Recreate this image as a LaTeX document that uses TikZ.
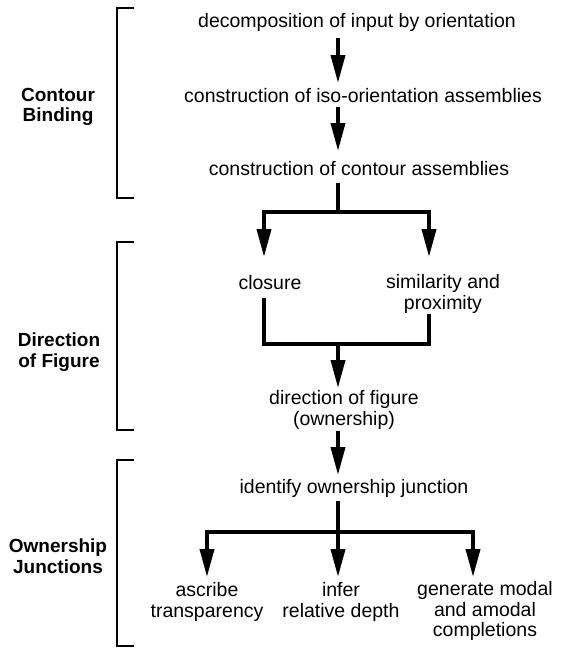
\documentclass[tikz,border=0pt]{standalone}
\usepackage{fontspec}
\setmainfont{Liberation Sans}
\usetikzlibrary{arrows.meta}
\tikzset{
  txt/.style={font=\fontsize{19.5}{20.5}\selectfont, align=center, inner sep=0pt},
  grp/.style={font=\fontsize{19}{20.5}\selectfont\bfseries, align=center, inner sep=0pt},
  brk/.style={line width=2.6pt, line cap=butt, line join=miter},
  wire/.style={line width=3.8pt, line join=miter},
  arr/.style={line width=3.8pt, line join=miter, -{Triangle[length=28pt,width=14pt]}}
}
\begin{document}
\begin{tikzpicture}[x=1pt,y=-1pt]
\useasboundingbox (0,0) rectangle (563,649);
\fill[white] (0,0) rectangle (563,649);

% brackets
\draw[brk] (134,8) -- (117,8) -- (117,198) -- (134,198);
\draw[brk] (134,242) -- (117,242) -- (117,430) -- (134,430);
\draw[brk] (134,460) -- (117,460) -- (117,646) -- (134,646);

% group labels
\node[grp] (gcb) at (58,107) {Contour\\Binding};
\node[grp] (gdf) at (59,352) {Direction\\of Figure};
\node[grp] (goj) at (58,556) {Ownership\\Junctions};

% text nodes
\node[txt] (dec) at (357,22) {decomposition of input by orientation};
\node[txt] (iso) at (363,96) {construction of iso-orientation assemblies};
\node[txt] (con) at (359,169) {construction of contour assemblies};
\node[txt] (clo) at (270,283) {closure};
\node[txt] (sim) at (443,294) {similarity and\\proximity};
\node[txt] (dir) at (344,410) {direction of figure\\(ownership)};
\node[txt] (idj) at (354,488) {identify ownership junction};
\node[txt] (asc) at (207,602) {ascribe\\transparency};
\node[txt] (inf) at (341,602) {infer\\relative depth};
\node[txt] (gen) at (485,611) {generate modal\\and amodal\\completions};

% connector coordinates
\coordinate (a1s) at (338,38);  \coordinate (a1e) at (338,83);
\coordinate (a2s) at (338,107); \coordinate (a2e) at (338,151);
\coordinate (c3s) at (338,183); \coordinate (j1) at (338,212);
\coordinate (t1) at (264,257);  \coordinate (t2) at (429,257);
\coordinate (cls) at (264,298); \coordinate (sms) at (429,314);
\coordinate (j2) at (338,344);  \coordinate (t3) at (338,388);
\coordinate (d4s) at (338,431); \coordinate (t4) at (338,475);
\coordinate (i5s) at (338,501); \coordinate (j3) at (338,532);
\coordinate (t5) at (207,577);  \coordinate (t6) at (338,577);
\coordinate (t7) at (473,577);

% connectors
\draw[arr] (a1s) -- (a1e);
\draw[arr] (a2s) -- (a2e);
\draw[wire] (c3s) -- (j1);
\draw[arr] (j1) -| (t1);
\draw[arr] (j1) -| (t2);
\draw[wire] (cls) |- (j2) -| (sms);
\draw[arr] (j2) -- (t3);
\draw[arr] (d4s) -- (t4);
\draw[wire] (i5s) -- (j3);
\draw[arr] (j3) -| (t5);
\draw[arr] (j3) -- (t6);
\draw[arr] (j3) -| (t7);
\end{tikzpicture}
\end{document}
